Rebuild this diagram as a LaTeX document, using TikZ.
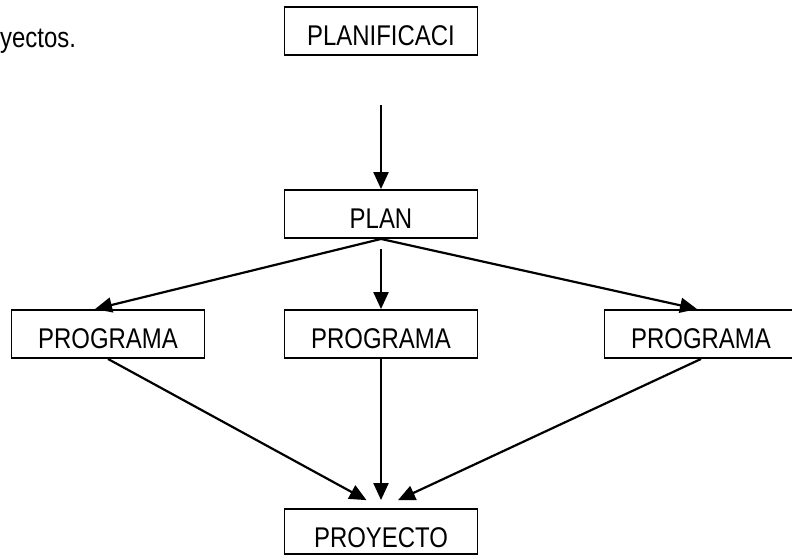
\documentclass[tikz,border=0pt]{standalone}
\usepackage{fontspec}
\setmainfont{Liberation Sans}[FakeStretch=0.84]
\usetikzlibrary{arrows.meta}
\begin{document}
\begin{tikzpicture}[x=1pt,y=-1pt,
  box/.style={draw, line width=1.9pt, minimum width=193pt, minimum height=48pt,
    inner sep=0pt, text height=28pt, text depth=0pt, font=\fontsize{28.5}{34}\selectfont},
  arr/.style={line width=2.2pt, -{Triangle[length=17pt,width=15pt]}}]
\useasboundingbox (0,0) rectangle (792,555);
\node[anchor=base west, inner sep=0pt, font=\fontsize{28.5}{34}\selectfont] (txt) at (0,47) {yectos.};
\node[box] (plnf) at (381,31) {PLANIFICACI};
\node[box] (plan) at (381,214) {PLAN};
\node[box] (prog1) at (108,334) {PROGRAMA};
\node[box] (prog2) at (381,334) {PROGRAMA};
\node[box] (prog3) at (701,334) {PROGRAMA};
\node[box, minimum height=45pt, text height=31pt] (proy) at (381,531.5) {PROYECTO};
\draw[arr, shorten <=49pt] (plnf.south) -- (plan.north);
\draw[arr] (plan.south) -- ([xshift=-13pt]prog1.north);
\draw[arr, shorten <=10pt] (plan.south) -- (prog2.north);
\draw[arr] (plan.south) -- ([xshift=-4pt]prog3.north);
\draw[arr, shorten >=16.5pt] (prog1.south) -- (proy.north);
\draw[arr, shorten >=8pt] (prog2.south) -- (proy.north);
\draw[arr, shorten >=18.8pt] (prog3.south) -- (proy.north);
\end{tikzpicture}
\end{document}
